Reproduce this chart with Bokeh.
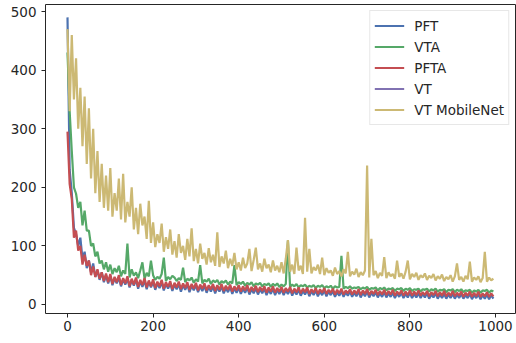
from bokeh.plotting import figure
from bokeh.models import Range1d, FixedTicker, Legend, ColumnDataSource
from bokeh.embed import file_html
from bokeh.resources import INLINE

# iterations (every 5th step)
iters = list(range(0, 1000, 5))

pft = [
    490, 230, 190, 131, 120, 100, 114, 78, 90, 62, 75, 55, 70, 47, 58, 42, 55, 38, 50, 36,
    49, 33, 45, 36, 46, 31, 43, 34, 44, 29, 42, 32, 43, 27, 40, 30, 41, 26, 39, 29,
    39, 25, 36, 28, 38, 24, 35, 27, 36, 23, 34, 26, 35, 22, 33, 25, 34, 21, 32, 24,
    33, 21, 31, 23, 32, 20, 30, 22, 31, 19, 29, 22, 31, 19, 28, 21, 30, 18, 28, 20,
    29, 18, 27, 20, 29, 17, 26, 19, 28, 17, 26, 19, 27, 16, 25, 18, 27, 16, 25, 18,
    26, 16, 24, 18, 26, 15, 24, 17, 25, 15, 23, 17, 25, 14, 23, 16, 24, 14, 22, 16,
    24, 14, 22, 16, 23, 13, 21, 15, 23, 13, 21, 15, 22, 13, 20, 14, 22, 12, 20, 14,
    22, 12, 20, 14, 21, 12, 19, 13, 21, 12, 19, 13, 20, 11, 19, 13, 20, 11, 18, 12,
    20, 11, 18, 12, 19, 11, 18, 12, 19, 10, 17, 12, 19, 10, 17, 11, 18, 10, 17, 11,
    18, 10, 17, 11, 18, 10, 16, 11, 18, 9, 16, 11, 17, 9, 16, 10, 17, 9, 16, 10,
]

vta = [
    430, 330, 262, 200, 189, 165, 175, 135, 160, 126, 126, 100, 104, 82, 90, 70, 75, 60, 72, 56,
    68, 52, 62, 55, 66, 48, 58, 52, 104, 46, 60, 49, 55, 45, 58, 72, 44, 54, 48, 75,
    50, 42, 47, 44, 52, 80, 40, 47, 43, 49, 46, 40, 45, 42, 63, 38, 44, 41, 46, 37,
    43, 39, 67, 36, 42, 39, 44, 35, 41, 38, 42, 34, 40, 37, 41, 34, 39, 36, 67, 33,
    38, 35, 39, 32, 37, 34, 38, 31, 36, 34, 37, 31, 35, 33, 36, 30, 35, 32, 36, 30,
    34, 31, 35, 109, 30, 34, 31, 35, 29, 33, 31, 34, 29, 32, 30, 33, 28, 32, 30, 33,
    28, 31, 29, 32, 27, 31, 29, 30, 83, 27, 30, 28, 31, 27, 29, 28, 30, 26, 29, 27,
    30, 25, 28, 27, 29, 24, 28, 26, 29, 24, 27, 26, 28, 23, 27, 26, 28, 23, 27, 25,
    28, 23, 26, 25, 27, 22, 26, 25, 27, 22, 26, 24, 27, 22, 25, 24, 26, 21, 25, 24,
    26, 21, 25, 23, 26, 21, 24, 23, 25, 20, 24, 22, 25, 20, 24, 23, 25, 20, 24, 22,
]

pfta = [
    295, 206, 180, 114, 126, 92, 100, 68, 85, 66, 75, 50, 65, 47, 60, 44, 55, 40, 53, 38,
    52, 35, 47, 38, 50, 33, 45, 36, 48, 31, 44, 34, 46, 30, 42, 33, 45, 29, 41, 31,
    43, 28, 39, 31, 42, 27, 38, 30, 40, 26, 37, 29, 39, 26, 36, 28, 38, 25, 35, 27,
    37, 24, 34, 27, 36, 24, 33, 26, 35, 23, 33, 25, 35, 23, 32, 25, 34, 22, 31, 24,
    33, 22, 31, 24, 33, 21, 30, 23, 32, 21, 30, 23, 31, 20, 29, 22, 31, 20, 28, 22,
    30, 20, 28, 22, 30, 19, 27, 21, 29, 19, 27, 21, 29, 18, 26, 20, 28, 18, 26, 20,
    28, 18, 25, 20, 27, 17, 25, 19, 27, 17, 24, 19, 26, 17, 24, 18, 26, 16, 24, 18,
    26, 16, 23, 18, 25, 16, 23, 17, 25, 16, 23, 17, 25, 15, 22, 17, 24, 15, 22, 16,
    24, 15, 22, 16, 24, 15, 21, 16, 23, 14, 21, 16, 23, 14, 21, 15, 23, 14, 20, 15,
    23, 14, 20, 15, 22, 13, 20, 15, 22, 13, 20, 14, 22, 13, 19, 14, 21, 13, 19, 14,
]

# VT: no visible trace in the chart (hidden under the other curves)
vt_iters = [0]
vt = [490]

vt_mobilenet = [
    470, 330, 460, 350, 420, 300, 370, 270, 355, 240, 335, 215, 300, 190, 262, 175, 240, 165, 220, 160,
    233, 150, 190, 160, 215, 145, 223, 140, 175, 150, 200, 128, 165, 120, 172, 135, 150, 112, 177, 105,
    140, 98, 120, 105, 138, 90, 115, 95, 128, 85, 108, 80, 120, 88, 100, 76, 112, 82, 130, 74,
    95, 70, 104, 78, 88, 68, 96, 72, 85, 66, 123, 64, 82, 70, 92, 62, 78, 66, 88, 60,
    72, 58, 80, 62, 70, 95, 57, 76, 97, 60, 70, 56, 78, 62, 68, 55, 75, 58, 66, 55,
    72, 53, 78, 110, 56, 68, 52, 97, 58, 66, 52, 148, 56, 95, 53, 64, 58, 68, 52, 80,
    50, 62, 54, 58, 49, 63, 52, 57, 48, 60, 53, 90, 48, 56, 51, 61, 47, 55, 50, 58,
    237, 46, 112, 50, 57, 45, 54, 49, 81, 45, 55, 48, 52, 44, 75, 47, 53, 44, 56, 75,
    43, 52, 47, 54, 42, 50, 46, 53, 42, 49, 45, 52, 41, 48, 44, 51, 40, 47, 43, 50,
    39, 48, 70, 42, 47, 39, 49, 43, 73, 39, 46, 42, 48, 38, 45, 90, 39, 46, 41, 44,
]

x_ticks = [0, 200, 400, 600, 800, 1000]
y_ticks = [0, 100, 200, 300, 400, 500]

p = figure(width=516, height=343, output_backend="svg", toolbar_location=None,
           x_range=Range1d(-51.4, 1046.7), y_range=Range1d(-15.4, 512),
           min_border_left=45, min_border_right=1, min_border_top=4, min_border_bottom=30)

p.background_fill_color = "white"
p.border_fill_color = "white"
p.outline_line_color = "#262626"
p.outline_line_width = 1
p.xgrid.visible = False
p.ygrid.visible = False

for ax, ticks in ((p.xaxis, x_ticks), (p.yaxis, y_ticks)):
    ax.ticker = FixedTicker(ticks=ticks)
    ax.axis_line_color = None
    ax.major_tick_line_color = "#262626"
    ax.major_tick_out = 4
    ax.major_tick_in = 0
    ax.minor_tick_line_color = None
    ax.major_label_text_font = "DejaVu Sans"
    ax.major_label_text_font_size = "13.5px"
    ax.major_label_text_color = "#262626"
p.xaxis.major_label_standoff = 3
p.yaxis.major_label_standoff = 5

colors = ["#4C72B0", "#55A868", "#C44E52", "#8172B2", "#CCB974"]
series = [
    ("PFT", iters, pft),
    ("VTA", iters, vta),
    ("PFTA", iters, pfta),
    ("VT", vt_iters, vt),
    ("VT MobileNet", iters, vt_mobilenet),
]

items = []
for (name, xs, ys), c in zip(series, colors):
    src = ColumnDataSource(data=dict(x=list(xs), y=list(ys)))
    r = p.line("x", "y", source=src, line_color=c, line_width=2.2)
    items.append((name, [r]))

legend = Legend(items=items, location="top_right")
legend.margin = 6
legend.padding = 4
legend.spacing = 0
legend.glyph_width = 30
legend.glyph_height = 21
legend.label_height = 21
legend.label_standoff = 10
legend.label_text_font = "DejaVu Sans"
legend.label_text_font_size = "13.5px"
legend.label_text_color = "#262626"
legend.border_line_color = "#d0d0d0"
legend.border_line_width = 1
legend.background_fill_alpha = 0.8
p.add_layout(legend, "center")

open("out.html", "w").write(file_html(p, INLINE))
